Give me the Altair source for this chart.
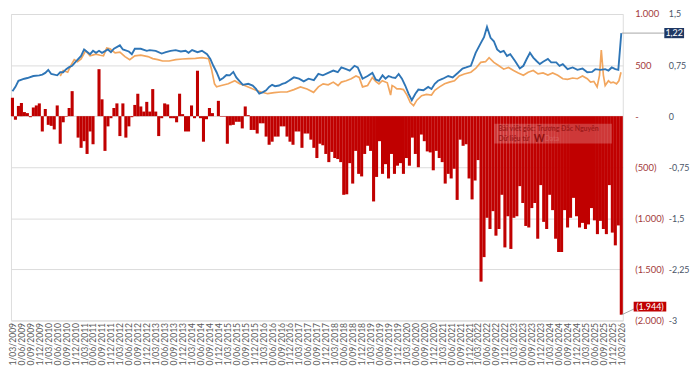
import json
import altair as alt
import pandas as pd

# ---------------- data ----------------
# monthly net values (bars), 03/2009 .. 03/2026
bars_2009_2013 = [180, -35, 100, 130, 40, 30, -10, 85, 105, 125, -150, 70, -85, -95, -130, 105, -270, -60, -5, 80,
                  245, 0, -210, -310, -245, -370, -150, -275, 0, 460, 165, -340, -100, -20, 80, 125, -195, 125, -210,
                  -100, -10, 110, 220, 95, 45, 140, 45, 265, 45, -195, -20]
bars_2013_2017 = [125, 115, -20, -20, -60, 220, 20, -150, -150, 105, -20, 445, -20, -250, -30, 80, 30, 0, 150, -5,
                  -5, -270, -90, -85, -55, -55, -120, 95, 10, -135, -135, -170, -70, -70, -200, -280, -250, -200, -200,
                  -100, -100, -200, -250, -280, -150, -150, -310, -170, -170, -230, -310, -410]
bars_2017_2021 = [-270, -285, -370, -450, -350, -410, -420, -450, -770, -765, -460, -660, -340, -565, -590, -370,
                  -290, -340, -835, -595, -245, -565, -470, -610, -370, -565, -485, -460, -565, -410, -485, -210,
                  -370, -500, -180, -245, -345, -355, -530, -340, -410, -450, -660, -565, -610, -515, -820, -230,
                  -290, -275]
bars_2021_2026 = [-610, -815, -630, -430, -1620, -1380, -995, -1105, -930, -1170, -1105, -770, -1285, -980, -1300,
                  -995, -980, -685, -850, -1075, -1090, -900, -850, -1200, -675, -1035, -1105, -770, -920, -1200,
                  -1330, -1330, -920, -1090, -995, -800, -980, -1090, -1045, -1105, -1060, -900, -1020, -1155, -1025,
                  -1105, -1155, -675, -1140, -1265, -1070, -1944]
bar_values = bars_2009_2013 + bars_2013_2017 + bars_2017_2021 + bars_2021_2026
bar_months = list(range(len(bar_values)))

# blue line (secondary axis): month position, value
blue_months = [0, 1, 2, 4, 5, 7, 9, 10, 11, 12, 13, 15, 16, 17, 18, 19, 20, 21, 23, 24, 26, 27, 28, 29, 30, 32, 33,
               34, 36, 37, 39, 40, 41, 43, 45, 46, 48, 50, 51.4, 53, 54.7, 56.4, 58, 59, 60.2, 62, 63.5, 65.2, 66.3,
               67.3, 68.4, 69.5, 70.6, 71.7, 72.8, 74, 75, 76, 77.2, 79, 80.5, 81.6, 82.7, 83.8, 85, 86, 87, 88,
               89.3, 90.4, 91.5, 92.6, 94.3, 96, 97.6, 99.2, 101, 102.5, 104, 105.8, 107.5, 109, 110.2, 111.8, 113,
               114.6, 115.7, 117.3, 119, 120.6, 121.7, 122.8, 124, 125, 126, 127.2, 128.3, 129.4, 130.5, 131.6,
               132.7, 133.8, 135, 136, 137.7, 139.3, 140.4, 141.5, 142.6, 144.2, 146, 147.5, 149.2, 150.8, 152,
               153.6, 155.2, 157, 158, 159, 160.2, 161.3, 162.4, 163.5, 164.6, 165.7, 166.8, 168.4, 170, 171.2,
               172.3, 173.4, 174.5, 175.6, 176.7, 177.8, 179.4, 180.5, 182.2, 183.3, 184.4, 186, 187.7, 189.3, 191,
               192.6, 194.2, 195.3, 197, 198.6, 199.7, 200.8, 202, 203, 204]
blue_values = [0.365, 0.43, 0.52, 0.55, 0.56, 0.59, 0.60, 0.61, 0.635, 0.68, 0.62, 0.60, 0.645, 0.645, 0.69, 0.72,
               0.74, 0.79, 0.885, 0.98, 0.91, 0.96, 0.93, 0.96, 0.93, 0.98, 0.94, 0.99, 1.04, 0.98, 0.95, 0.91, 0.99,
               0.99, 0.96, 0.97, 0.96, 0.92, 0.94, 0.96, 0.97, 0.95, 0.96, 0.93, 0.97, 0.94, 0.96, 0.91, 0.84, 0.74,
               0.645, 0.53, 0.56, 0.605, 0.60, 0.65, 0.57, 0.52, 0.46, 0.475, 0.45, 0.40, 0.33, 0.35, 0.38, 0.43,
               0.46, 0.44, 0.45, 0.475, 0.49, 0.52, 0.57, 0.55, 0.51, 0.55, 0.53, 0.62, 0.60, 0.635, 0.67, 0.645,
               0.715, 0.69, 0.67, 0.74, 0.715, 0.55, 0.59, 0.635, 0.54, 0.52, 0.60, 0.55, 0.59, 0.57, 0.56, 0.62,
               0.55, 0.45, 0.33, 0.235, 0.33, 0.39, 0.38, 0.43, 0.40, 0.475, 0.52, 0.55, 0.59, 0.57, 0.635, 0.70,
               0.715, 0.74, 0.93, 1.08, 1.16, 1.31, 1.15, 1.10, 0.98, 0.94, 0.96, 0.885, 0.91, 0.81, 0.70, 0.74,
               0.84, 0.93, 0.86, 0.81, 0.765, 0.80, 0.84, 0.79, 0.79, 0.74, 0.765, 0.69, 0.715, 0.68, 0.70, 0.645,
               0.65, 0.69, 0.68, 0.69, 0.67, 0.715, 0.69, 0.68, 1.22]

# orange line (secondary axis)
orange_months = [16, 17, 18.5, 19.5, 20.7, 21.8, 23, 24.5, 26, 28, 29.4, 30.5, 31.6, 32.7, 34.4, 36, 37.7, 39.3, 41,
                 43, 45.4, 47, 48.7, 50.3, 52.5, 54.7, 56.9, 59.1, 61.3, 63.5, 65.7, 66.7, 67.7, 68.4, 70, 72.3,
                 74.5, 76.1, 77.8, 80, 81.6, 83.3, 85.5, 87.7, 89.9, 92, 94.3, 96.5, 98.7, 100.9, 102.5, 104.1,
                 105.8, 107.5, 109.1, 110.2, 111.8, 113.5, 115.1, 116.2, 117.3, 119, 120.6, 121.7, 122.8, 123.9,
                 125.6, 126.7, 127.2, 128, 128.8, 129.9, 131, 132.2, 133.3, 134.4, 135.5, 137.1, 138.7, 140.4, 141.5,
                 143.1, 144.8, 146.4, 148.1, 149.7, 151.4, 153.6, 155.2, 156.9, 158.5, 159.7, 161.3, 163, 164.6,
                 166.2, 167.9, 169.5, 171.2, 172.8, 174.5, 176.1, 177.8, 179.4, 181, 182.7, 184.4, 186, 187.7, 189.3,
                 191, 192.6, 193.7, 194.8, 195.9, 196.7, 197.3, 198, 198.6, 199.7, 200.5, 201.3, 202.4, 203.2, 203.9]
orange_values = [0.59, 0.67, 0.645, 0.74, 0.83, 0.80, 0.84, 0.96, 0.885, 0.91, 0.895, 0.885, 1.0, 0.99, 0.93, 0.94,
                 0.875, 0.83, 0.885, 0.895, 0.875, 0.845, 0.83, 0.81, 0.81, 0.83, 0.84, 0.845, 0.85, 0.86, 0.845,
                 0.69, 0.475, 0.43, 0.45, 0.475, 0.52, 0.475, 0.45, 0.41, 0.38, 0.355, 0.33, 0.345, 0.355, 0.355,
                 0.39, 0.43, 0.40, 0.35, 0.43, 0.475, 0.46, 0.50, 0.45, 0.50, 0.52, 0.55, 0.59, 0.57, 0.43, 0.45,
                 0.57, 0.51, 0.475, 0.52, 0.49, 0.31, 0.45, 0.43, 0.40, 0.40, 0.39, 0.31, 0.20, 0.155, 0.235, 0.30,
                 0.32, 0.31, 0.38, 0.43, 0.475, 0.50, 0.52, 0.59, 0.62, 0.645, 0.70, 0.79, 0.80, 0.86, 0.79, 0.74,
                 0.69, 0.715, 0.67, 0.635, 0.60, 0.645, 0.67, 0.62, 0.635, 0.605, 0.635, 0.60, 0.55, 0.54, 0.56,
                 0.55, 0.59, 0.55, 0.50, 0.51, 0.43, 0.60, 0.97, 0.60, 0.45, 0.52, 0.49, 0.50, 0.475, 0.52, 0.645]

# tick labels
x_tick_labels = []
for yr in range(2009, 2026):
    x_tick_labels += [f"1/03/{yr}", f"0/06/{yr}", f"0/09/{yr}", f"1/12/{yr}"]
x_tick_labels += ["1/03/2026"]
x_tick_values = list(range(0, 3 * len(x_tick_labels), 3))

bar_tick_values = [-2000, -1500, -1000, -500, 0, 500, 1000]
bar_tick_labels = ["(2.000)", "(1.500)", "(1.000)", "(500)", "-", "500", "1.000"]
sec_tick_values = [-3, -2.25, -1.5, -0.75, 0, 0.75, 1.5]
sec_tick_labels = ["-3", "-2,25", "-1,5", "-0,75", "0", "0,75", "1,5"]

last_bar_value = -1944
last_bar_label = "(1.944)"
last_blue_value = 1.22
last_blue_label = "1,22"
watermark_line1 = "Bài viết gốc: Trương Đắc Nguyên"
watermark_line2 = "Dữ liệu từ"
watermark_logo = "W"
watermark_logo2 = "Data"

# ---------------- chart ----------------
RED = "#C00000"
BLUE = "#2E75B6"
ORANGE = "#F2A65E"
W, H = 619, 310

df_bars = pd.DataFrame({"m": bar_months, "v": bar_values})
df_blue = pd.DataFrame({"m": blue_months, "v": blue_values})
df_orange = pd.DataFrame({"m": orange_months, "v": orange_values})
df_one = pd.DataFrame({"k": [0]})

xs = alt.Scale(domain=[-0.5, 204.5], nice=False, zero=False, padding=0)
ys_bar = alt.Scale(domain=[-2000, 1000], nice=False, padding=0)
ys_sec = alt.Scale(domain=[-3, 1.5], nice=False, padding=0)

x_axis = alt.Axis(values=x_tick_values,
                  labelExpr=f"{json.dumps(x_tick_labels)}[round(datum.value / 3)]",
                  labelAngle=270, labelFontSize=8.7, labelColor="#595959", labelOverlap=False,
                  labelPadding=2, domain=False, ticks=False, grid=False, title=None, labelBound=False)
bar_axis = alt.Axis(orient="right", values=bar_tick_values,
                    labelExpr=f"{json.dumps(bar_tick_labels)}[round((datum.value + 2000) / 500)]",
                    labelFontSize=9.5, labelColor="#A33A3A", labelAlign="left", labelPadding=12,
                    domain=False, ticks=False, grid=True, gridColor="#DCDCDC", gridWidth=1, title=None)
sec_axis = alt.Axis(orient="right", values=sec_tick_values, offset=35,
                    labelExpr=f"{json.dumps(sec_tick_labels)}[round((datum.value + 3) / 0.75)]",
                    labelFontSize=9, labelColor="#4A5568", labelAlign="left", labelPadding=11,
                    domain=False, ticks=False, grid=False, title=None)

bars = alt.Chart(df_bars).mark_bar(color=RED, width=3.1).encode(
    x=alt.X("m:Q", scale=xs, axis=x_axis),
    y=alt.Y("v:Q", scale=ys_bar, axis=bar_axis),
)

bar_conn = alt.Chart(df_one).mark_rule(color="#A6A6A6", strokeWidth=1).encode(
    x=alt.value(618), x2=alt.value(631),
    y=alt.Y(datum=last_bar_value, type="quantitative", scale=ys_bar, axis=bar_axis),
    y2=alt.Y2(datum=-1885),
)
bar_box = alt.Chart(df_one).mark_rect(color=RED).encode(
    x=alt.value(630), x2=alt.value(663),
    y=alt.Y(datum=-1816, type="quantitative", scale=ys_bar, axis=bar_axis),
    y2=alt.Y2(datum=-1912),
)
bar_text = alt.Chart(df_one).mark_text(color="white", fontSize=9, align="center", baseline="middle").encode(
    x=alt.value(646.5),
    y=alt.Y(datum=-1864, type="quantitative", scale=ys_bar, axis=bar_axis),
    text=alt.value(last_bar_label),
)

bar_layer = alt.layer(bars, bar_conn, bar_box, bar_text)

orange = alt.Chart(df_orange).mark_line(color=ORANGE, strokeWidth=1.7).encode(
    x=alt.X("m:Q", scale=xs, axis=x_axis),
    y=alt.Y("v:Q", scale=ys_sec, axis=sec_axis),
)
blue = alt.Chart(df_blue).mark_line(color=BLUE, strokeWidth=1.9).encode(
    x=alt.X("m:Q", scale=xs, axis=x_axis),
    y=alt.Y("v:Q", scale=ys_sec, axis=sec_axis),
)
blue_conn = alt.Chart(df_one).mark_rule(color="#A6A6A6", strokeWidth=1).encode(
    x=alt.value(618), x2=alt.value(661),
    y=alt.Y(datum=last_blue_value, type="quantitative", scale=ys_sec, axis=sec_axis),
)
blue_box = alt.Chart(df_one).mark_rect(color="#1F3864").encode(
    x=alt.value(661), x2=alt.value(681),
    y=alt.Y(datum=last_blue_value + 0.075, type="quantitative", scale=ys_sec, axis=sec_axis),
    y2=alt.Y2(datum=last_blue_value - 0.075),
)
blue_text = alt.Chart(df_one).mark_text(color="white", fontSize=9, align="center", baseline="middle").encode(
    x=alt.value(671),
    y=alt.Y(datum=last_blue_value, type="quantitative", scale=ys_sec, axis=sec_axis),
    text=alt.value(last_blue_label),
)

# watermark overlay
wm_box = alt.Chart(df_one).mark_rect(color="white", opacity=0.22).encode(
    x=alt.value(489), x2=alt.value(608), y=alt.value(111), y2=alt.value(131))
wm_t1 = alt.Chart(df_one).mark_text(color="#9E1A1A", fontSize=7, fontWeight="bold", align="left",
                                    baseline="middle").encode(
    x=alt.value(493), y=alt.value(116.5), text=alt.value(watermark_line1))
wm_t2 = alt.Chart(df_one).mark_text(color="#9E1A1A", fontSize=7, fontWeight="bold", align="left",
                                    baseline="middle").encode(
    x=alt.value(493), y=alt.value(126), text=alt.value(watermark_line2))
wm_t3 = alt.Chart(df_one).mark_text(color="#8E1010", fontSize=10.5, fontWeight="bold", align="left",
                                    baseline="middle").encode(
    x=alt.value(529), y=alt.value(126), text=alt.value(watermark_logo))
wm_t4 = alt.Chart(df_one).mark_text(color="#D86060", fontSize=7, align="left", baseline="middle").encode(
    x=alt.value(540), y=alt.value(126.5), text=alt.value(watermark_logo2))

line_layer = alt.layer(orange, blue, blue_conn, blue_box, blue_text, wm_box, wm_t1, wm_t2, wm_t3, wm_t4)

chart = alt.layer(bar_layer, line_layer).resolve_scale(y="independent").properties(
    width=W, height=H,
    autosize=alt.AutoSizeParams(type="none"),
    padding={"left": 3, "top": 4, "right": 68, "bottom": 44},
).configure_view(strokeWidth=0, stroke="transparent").configure(font="Lato")

chart.save("out.html", embed_options={"renderer": "svg", "actions": False})
